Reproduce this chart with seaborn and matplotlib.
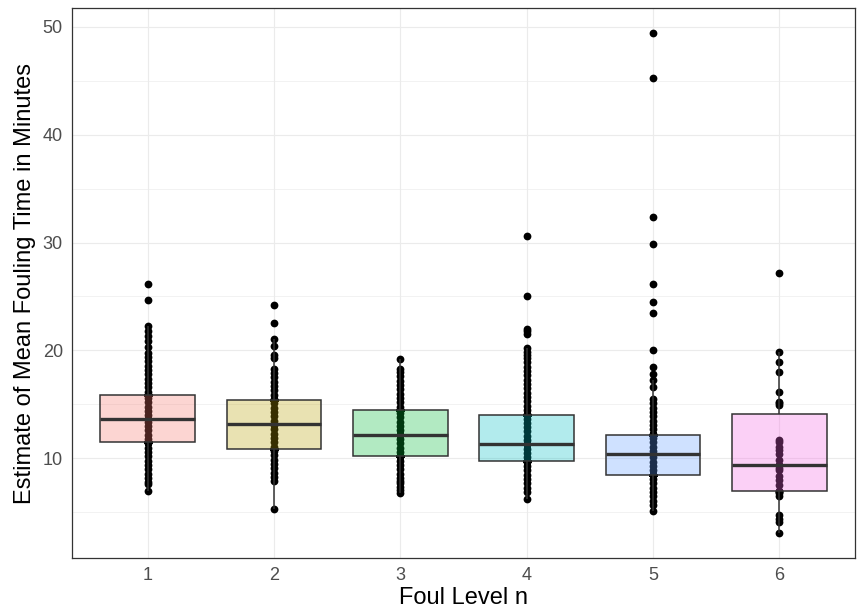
import matplotlib
matplotlib.use('Agg')
import matplotlib.pyplot as plt
from matplotlib.ticker import MultipleLocator
import numpy as np
import pandas as pd
import seaborn as sns

# foul levels on the x axis
levels = ['1', '2', '3', '4', '5', '6']

# distinct estimates seen for each level (minutes)
lvl1 = [7.0, 7.6, 7.85, 8.2, 8.6, 9.0, 9.4, 9.8, 10.2, 10.6, 11.0, 11.4, 11.8, 12.2,
        12.6, 13.0, 13.4, 14.0, 14.4, 14.8, 15.2, 15.6, 16.2, 16.6, 17.0, 17.4, 17.8,
        18.2, 18.6, 19.0, 19.4, 19.8, 20.3, 20.9, 21.3, 21.8, 22.3, 24.65, 26.2]
lvl2 = [5.3, 7.9, 8.3, 8.7, 9.1, 9.5, 9.9, 10.3, 10.7, 11.1, 11.5, 11.9, 12.3, 12.7,
        13.1, 13.5, 13.9, 14.3, 14.7, 15.1, 15.5, 15.9, 16.3, 16.7, 17.1, 17.5, 17.9,
        18.3, 19.3, 19.6, 20.4, 21.1, 22.5, 24.2]
lvl3 = [6.8, 7.1, 7.4, 7.7, 7.9, 8.2, 8.6, 9.0, 9.4, 9.8, 10.6, 11.0, 11.4, 11.8,
        12.6, 13.0, 13.4, 13.8, 14.2, 14.8, 15.2, 15.6, 16.0, 16.4, 16.8, 17.2, 17.6,
        18.0, 18.3, 19.2]
lvl4 = [6.25, 6.9, 7.3, 7.7, 8.1, 8.5, 8.9, 9.3, 9.7, 10.1, 10.5, 10.9, 11.3, 11.7,
        12.1, 12.5, 12.9, 13.3, 13.7, 14.1, 14.5, 14.9, 15.3, 15.7, 16.1, 16.5, 16.9,
        17.3, 17.7, 18.1, 18.5, 18.9, 19.3, 19.6, 19.9, 20.2, 21.5, 21.8, 22.0, 25.0, 30.6]
lvl5 = [5.1, 5.7, 6.1, 6.5, 6.9, 7.3, 7.7, 8.1, 8.9, 9.3, 9.7, 10.1, 10.7, 11.1,
        11.5, 11.9, 12.3, 12.7, 13.1, 13.5, 13.9, 14.3, 14.7, 15.1, 15.5, 16.6, 17.3,
        17.85, 18.5, 20.0, 23.5, 24.5, 26.2, 29.9, 32.4, 45.2, 49.4]
lvl6 = [3.1, 4.15, 4.4, 4.75, 6.5, 6.8, 6.9, 7.0, 7.0, 7.5, 8.0, 8.4, 8.9, 9.1, 9.4,
        9.4, 9.85, 10.4, 10.8, 11.1, 11.5, 11.7, 14.95, 15.1, 15.2, 16.15, 18.0, 18.9,
        19.85, 27.2]

# values recorded many times (heavy ties) in the big samples
ties1 = [11.5, 13.7, 15.9]
ties2 = [10.9, 13.2, 15.4]
ties3 = [10.25, 12.2, 14.5]
ties4 = [9.8, 11.35, 14.0]
ties5 = [8.5, 10.4, 12.2]
ties6 = []
TIES = 40

palette = ["#F8766D", "#B79F00", "#00BA38", "#00BFC4", "#619CFF", "#F564E3"]

rows = []
for lvl, pts, ties in zip(levels, [lvl1, lvl2, lvl3, lvl4, lvl5, lvl6],
                          [ties1, ties2, ties3, ties4, ties5, ties6]):
    for v in pts + ties * TIES:
        rows.append((lvl, v))
df = pd.DataFrame(rows, columns=['level', 'value'])

sns.set_style("white")
plt.rcParams['font.family'] = ['Liberation Sans', 'DejaVu Sans']

fig = plt.figure(figsize=(8.59, 6.15), dpi=100)
ax = fig.add_axes([72/859, 1 - 558/615, (855-72)/859, (558-8)/615])

sns.stripplot(data=df, x='level', y='value', order=levels, jitter=False,
              color='black', size=5.6, linewidth=0, ax=ax, zorder=2)
sns.boxplot(data=df, x='level', y='value', hue='level', order=levels,
            hue_order=levels, palette=palette, saturation=1, width=0.75,
            showfliers=False, showcaps=False, linecolor='#333333', linewidth=1.1,
            medianprops={'linewidth': 2.4}, legend=False, ax=ax, zorder=3)

# translucent fill, opaque edge
for p in ax.patches:
    fc = p.get_facecolor()
    p.set_facecolor((fc[0], fc[1], fc[2], 0.3))

lo, hi = df['value'].min(), df['value'].max()
pad = 0.05 * (hi - lo)
ax.set_ylim(lo - pad, hi + pad)
ax.set_xlim(-0.6, 5.6)

ax.yaxis.set_major_locator(MultipleLocator(10))
ax.yaxis.set_minor_locator(MultipleLocator(5))
ax.set_axisbelow(True)
ax.grid(which='major', color='#EBEBEB', linewidth=0.85)
ax.grid(which='minor', axis='y', color='#EBEBEB', linewidth=0.45)

for s in ax.spines.values():
    s.set_color('#333333')
    s.set_linewidth(0.9)

ax.tick_params(which='major', length=3.6, width=0.8, color='#333333',
               labelcolor='#4D4D4D', labelsize=13, pad=3)
ax.tick_params(which='minor', length=0)

ax.set_xlabel('Foul Level n', fontsize=17, color='black', labelpad=2)
ax.set_ylabel('Estimate of Mean Fouling Time in Minutes', fontsize=17,
              color='black', labelpad=5)

fig.savefig('out.png', dpi=100)
